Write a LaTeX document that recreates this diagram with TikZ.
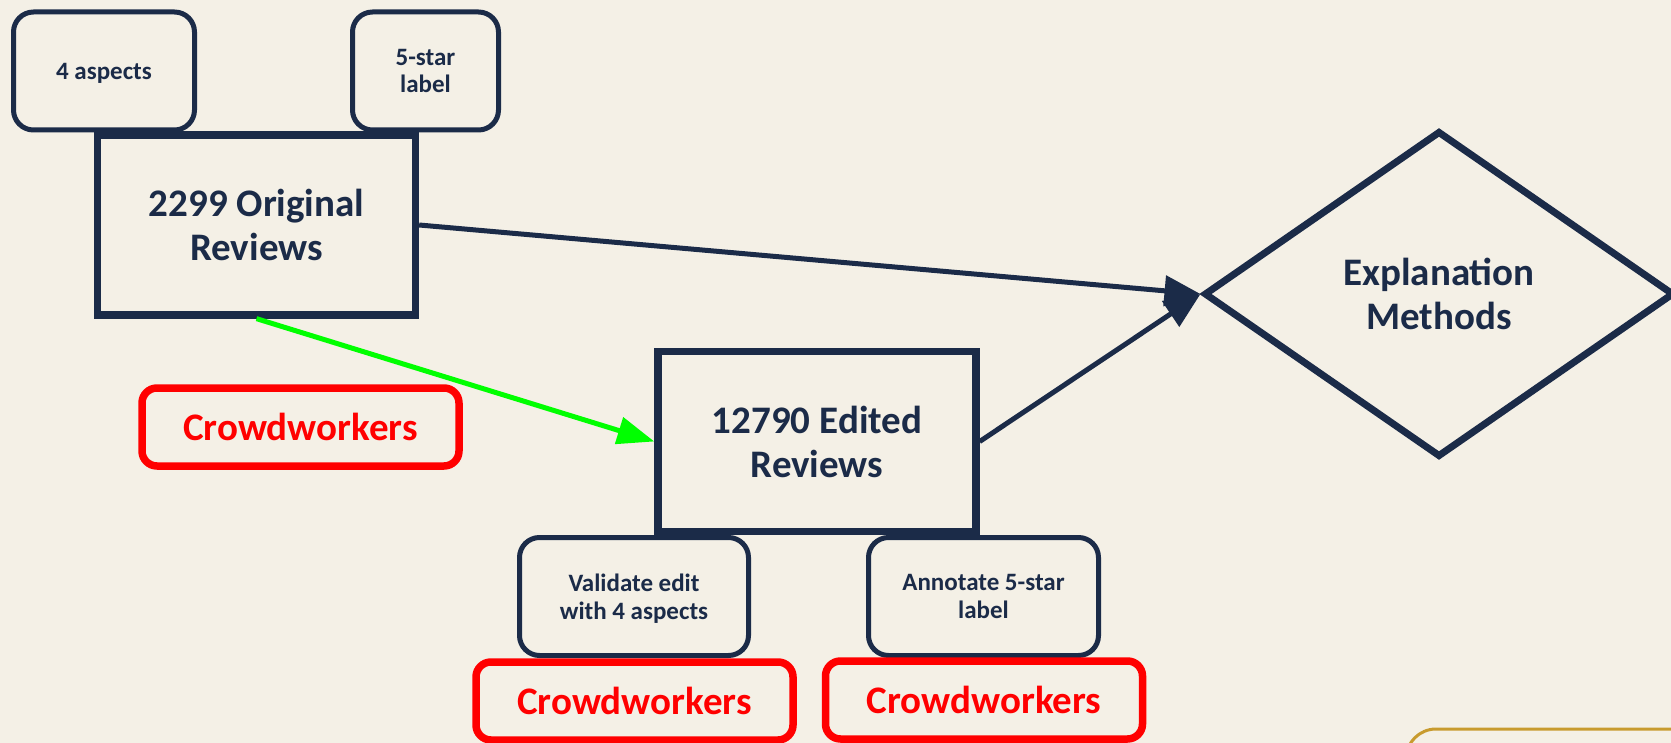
\documentclass[tikz,border=0pt]{standalone}
\usepackage{fontspec}
\setmainfont{Carlito}
\usetikzlibrary{positioning,shapes.geometric,arrows.meta}

\definecolor{navy}{HTML}{1B2B48}
\definecolor{cream}{HTML}{F4F0E6}
\definecolor{gold}{HTML}{C89B2E}
\definecolor{arrowgreen}{HTML}{00FF00}

\begin{document}
\begin{tikzpicture}[
    x=1pt, y=-1pt,
    data/.style={draw=navy,line width=7.3pt,fill=cream,text=navy,inner sep=0pt,
        minimum width=318pt,minimum height=180pt,align=center,
        font=\bfseries\fontsize{39}{44}\selectfont},
    tag/.style={draw=navy,line width=5pt,rounded corners=20pt,fill=cream,text=navy,
        inner sep=0pt,minimum height=118pt,align=center,text depth=0pt,
        font=\bfseries\fontsize{25}{27.5}\selectfont},
    crowd/.style={draw=red,line width=7.5pt,rounded corners=15pt,fill=cream,text=red,
        inner sep=0pt,minimum width=317pt,minimum height=78pt,
        font=\bfseries\fontsize{39}{44}\selectfont},
    method/.style={diamond,draw=navy,line width=7pt,fill=cream,text=navy,inner sep=0pt,
        minimum width=470pt,minimum height=326pt,align=center,
        font=\bfseries\fontsize{39}{44}\selectfont},
    line/.style={navy,line width=5pt,-{Triangle[length=36pt,width=30pt]}},
    edit/.style={arrowgreen,line width=5pt,-{Triangle[length=37pt,width=27pt]}}
]

\useasboundingbox (0,0) rectangle (1671,743);
\fill[cream] (0,0) rectangle (1671,743);

% Original reviews
\node[data] (OR) at (256.5,225) {2299 Original\\Reviews};
\node[tag,minimum width=181pt] (A4) at (104,71) {4 aspects};
\node[tag,minimum width=146pt] (S5) at (425.5,71) {5-star\\label};

% Edited reviews
\node[data] (ER) at (817,441.5) {12790 Edited\\Reviews};
\node[tag,minimum width=229pt] (VE) at (634,596.5) {Validate edit\\with 4 aspects};
\node[tag,minimum width=230pt] (AN) at (983.5,596.5) {Annotate 5-star\\label};

% Crowdworkers
\node[crowd] (C1) at (300.5,427) {Crowdworkers};
\node[crowd] (C2) at (634.5,701) {Crowdworkers};
\node[crowd] (C3) at (984,700) {Crowdworkers};

% Explanation methods
\node[method] (EM) at (1439,294) {Explanation\\Methods};

\draw[edit] (OR.south) -- (ER.west);
\draw[line] (OR.east) -- (EM.west);
\draw[line] (ER.east) -- (EM.west);

% corner of the next panel
\begin{scope}
\clip (0,0) rectangle (1671,743);
\draw[gold,line width=3pt,rounded corners=30pt] (1406,800) rectangle (1760,729);
\end{scope}

\end{tikzpicture}
\end{document}
